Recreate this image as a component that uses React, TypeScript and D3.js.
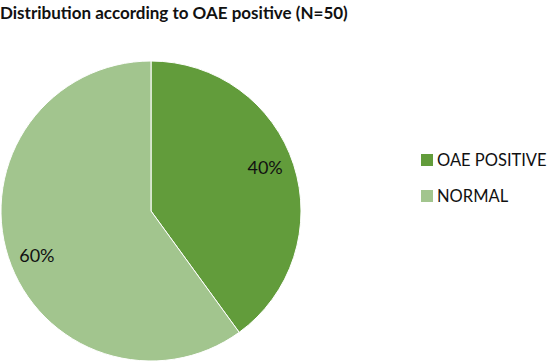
import React from 'react'
import * as d3 from 'd3'

const title = 'Distribution according to OAE positive (N=50)'
const categories = ['OAE POSITIVE', 'NORMAL']
const values = [40, 60]
const colors = ['#629c3b', '#a2c58e']

const App = () => {
  const width = 550
  const height = 364
  const cx = 151
  const cy = 211
  const radius = 150
  const font = 'Lato, "Open Sans", sans-serif'

  const pie = d3.pie<number>().sort(null).value(d => d)
  const arcs = pie(values)
  const arc = d3.arc<d3.PieArcDatum<number>>().innerRadius(0).outerRadius(radius)
  const labelArc = d3.arc<d3.PieArcDatum<number>>().innerRadius(radius * 0.8).outerRadius(radius * 0.8)
  const total = d3.sum(values)

  const legendY = d3.scalePoint<string>().domain(categories).range([160, 196])

  return (
    <svg width={width} height={height} style={{position: 'absolute', left: 0, top: 0}}>
      <rect width={width} height={height} fill="white"/>
      <text x={0} y={19} fontFamily={font} fontWeight="bold" fontSize={17} fill="#111">{title}</text>
      <g transform={`translate(${cx},${cy})`}>
        {arcs.map((a, i) => (
          <path key={i} d={arc(a) || ''} fill={colors[i]} stroke="white" strokeWidth={1}/>
        ))}
        {arcs.map((a, i) => {
          const [x, y] = labelArc.centroid(a)
          return (
            <text key={i} x={x} y={y * 1.18} textAnchor="middle" dominantBaseline="central"
              fontFamily={font} fontSize={18} fill="#111">
              {Math.round(a.value / total * 100) + '%'}
            </text>
          )
        })}
      </g>
      {categories.map((c, i) => (
        <g key={c} transform={`translate(421,${legendY(c)})`}>
          <rect x={0} y={-6} width={12} height={12} fill={colors[i]}/>
          <text x={16} y={0} dominantBaseline="central" fontFamily={font} fontSize={16.5} fill="#111">{c}</text>
        </g>
      ))}
    </svg>
  )
}

export default App
